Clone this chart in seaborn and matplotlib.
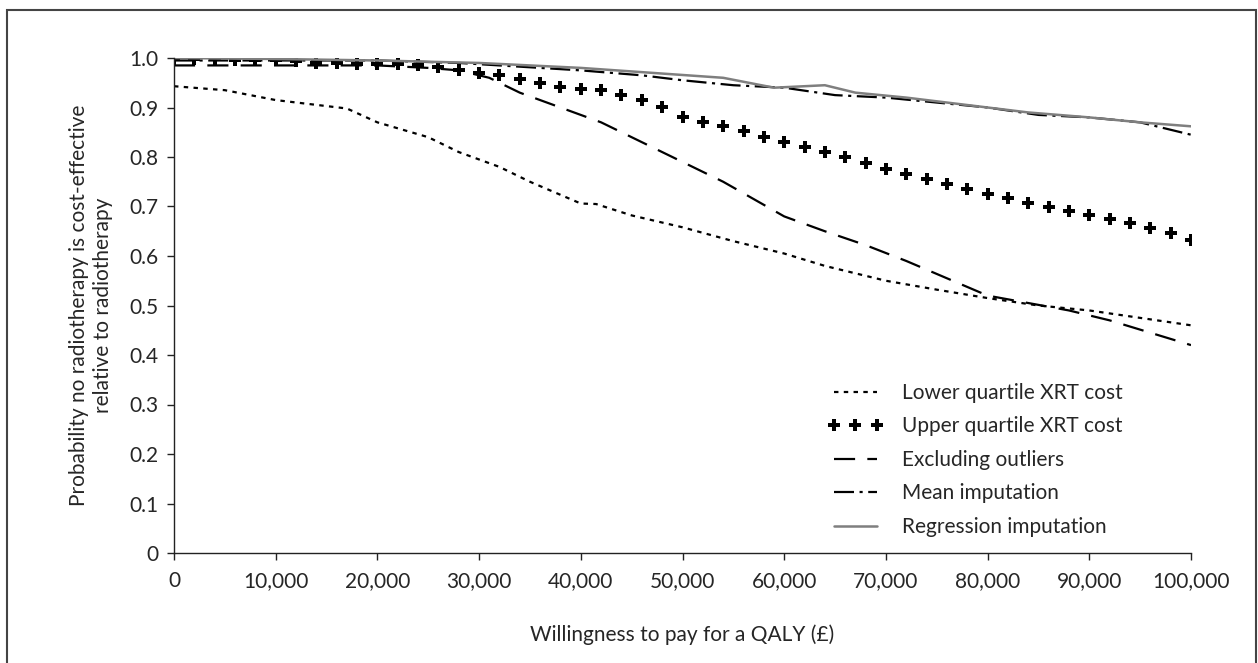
import numpy as np
import pandas as pd
import seaborn as sns
import matplotlib.pyplot as plt
from matplotlib.patches import Rectangle

# willingness to pay (GBP) and probability curves
wtp_lower = [0, 5000, 10000, 17000, 20000, 25000, 28000, 32000, 35000, 40000, 41500,
             45000, 50000, 55000, 60000, 64000, 70000, 75000, 80000, 85000, 90000, 95000, 100000]
lower_q = [0.943, 0.935, 0.915, 0.898, 0.87, 0.84, 0.81, 0.78, 0.75, 0.706, 0.705,
           0.682, 0.658, 0.63, 0.605, 0.58, 0.55, 0.532, 0.515, 0.5, 0.49, 0.475, 0.46]

wtp_upper = list(range(0, 100001, 2000))
upper_q = [0.997, 0.997, 0.997, 0.996, 0.995, 0.995, 0.993, 0.99, 0.99, 0.988,
           0.988, 0.987, 0.985, 0.982, 0.975, 0.97, 0.965, 0.958, 0.95, 0.942,
           0.938, 0.935, 0.925, 0.915, 0.902, 0.88, 0.87, 0.862, 0.852, 0.84,
           0.83, 0.82, 0.81, 0.80, 0.787, 0.775, 0.765, 0.755, 0.745, 0.735,
           0.726, 0.717, 0.708, 0.699, 0.69, 0.683, 0.675, 0.666, 0.656, 0.646, 0.632]

wtp_excl = [0, 10000, 20000, 25000, 28000, 31000, 34000, 38000, 42000, 46000, 50000,
            54000, 57000, 60000, 64000, 68000, 72000, 76000, 80000, 84000, 88000, 92000, 96000, 100000]
excl_out = [0.985, 0.985, 0.985, 0.98, 0.975, 0.96, 0.93, 0.90, 0.87, 0.83, 0.79,
            0.75, 0.715, 0.68, 0.65, 0.622, 0.59, 0.555, 0.52, 0.505, 0.49, 0.47, 0.445, 0.42]

wtp_mean = [0, 10000, 20000, 28000, 32000, 40000, 46000, 50000, 55000, 60000, 65000,
            70000, 75000, 80000, 85000, 90000, 95000, 100000]
mean_imp = [0.995, 0.995, 0.995, 0.99, 0.985, 0.975, 0.965, 0.955, 0.945, 0.94, 0.925,
            0.92, 0.91, 0.90, 0.885, 0.88, 0.87, 0.845]

wtp_reg = [0, 10000, 20000, 30000, 40000, 47000, 54000, 59000, 64000, 67000, 72000,
           78000, 84000, 90000, 95000, 100000]
reg_imp = [1.0, 0.998, 0.995, 0.99, 0.98, 0.97, 0.96, 0.94, 0.945, 0.93, 0.92,
           0.905, 0.89, 0.88, 0.87, 0.862]

labels = ['Lower quartile XRT cost', 'Upper quartile XRT cost', 'Excluding outliers',
          'Mean imputation', 'Regression imputation']

sns.set_style('ticks')
plt.rcParams['font.family'] = ['Lato', 'DejaVu Sans']
fs = 15

fig = plt.figure(figsize=(12.58, 6.63), dpi=100)
ax = fig.add_axes([174 / 1258, 110 / 663, 1017 / 1258, 495 / 663])

sns.lineplot(x=wtp_lower, y=lower_q, ax=ax, color='black', lw=1.6, label=labels[0])
ax.lines[-1].set_dashes((2, 2.4))
sns.lineplot(x=wtp_upper, y=upper_q, ax=ax, color='black', linestyle='none',
             marker='P', markersize=8.5, markeredgewidth=0, label=labels[1])
sns.lineplot(x=wtp_excl, y=excl_out, ax=ax, color='black', lw=1.6, label=labels[2])
ax.lines[-1].set_dashes((9.5, 5.5))
sns.lineplot(x=wtp_mean, y=mean_imp, ax=ax, color='black', lw=1.6, label=labels[3])
ax.lines[-1].set_dashes((9, 2.5, 1.4, 2.5))
sns.lineplot(x=wtp_reg, y=reg_imp, ax=ax, color='#7f7f7f', lw=1.8, label=labels[4])

ax.set_xlim(0, 100000)
ax.set_ylim(0, 1.0)
ax.set_xticks(np.arange(0, 100001, 10000))
ax.set_xticklabels(['0'] + [f'{v:,}' for v in range(10000, 100001, 10000)])
ax.set_yticks(np.arange(0, 1.01, 0.1))
ax.set_yticklabels(['0'] + [f'{v / 10:.1f}' for v in range(1, 11)])
ax.tick_params(labelsize=fs, length=5, width=1, color='#222', pad=6)
ax.tick_params(axis='x', pad=8)
for s in ['top', 'right']:
    ax.spines[s].set_visible(False)
for s in ['left', 'bottom']:
    ax.spines[s].set_color('#222')
    ax.spines[s].set_linewidth(1)

ax.set_xlabel('Willingness to pay for a QALY (£)', fontsize=fs, labelpad=24)
ax.set_ylabel('Probability no radiotherapy is cost-effective\nrelative to radiotherapy',
              fontsize=fs, labelpad=12, linespacing=1.25)

leg = ax.legend(loc='center left', bbox_to_anchor=(0.643, 0.188), frameon=False,
                fontsize=fs, handlelength=2.64, handletextpad=0.9, labelspacing=0.65,
                numpoints=3, borderpad=0, borderaxespad=0)

fig.add_artist(Rectangle((7 / 1258, -0.02), 1249 / 1258, 653 / 663 + 0.02,
                         transform=fig.transFigure, fill=False, lw=1.5, ec='#444'))

fig.savefig('out.png', dpi=100)
